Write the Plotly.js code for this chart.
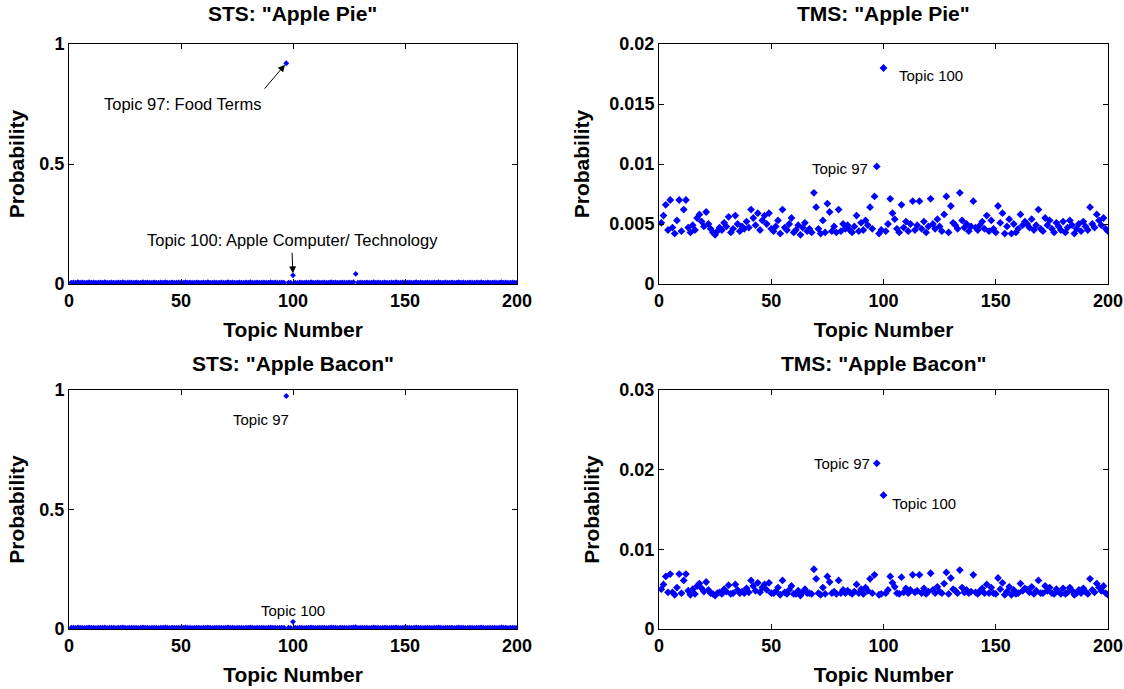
<!DOCTYPE html>
<html>
<head>
<meta charset="utf-8">
<script src="https://cdn.plot.ly/plotly-3.0.1.min.js"></script>
<style>html,body{margin:0;padding:0;background:#fff;}#chart{width:1124px;height:689px;}</style>
</head>
<body>
<div id="chart"></div>
<script>
// Topic numbers 1..200
const topics = Array.from({length: 200}, (_, i) => i + 1);

const stsApplePie = [
0.006,0.007,0.005,0.008,0.006,0.007,0.005,0.006,0.008,0.006,
0.007,0.005,0.006,0.007,0.006,0.008,0.005,0.006,0.007,0.006,
0.005,0.007,0.006,0.008,0.006,0.005,0.007,0.006,0.006,0.007,
0.005,0.006,0.008,0.006,0.007,0.005,0.006,0.007,0.006,0.005,
0.007,0.006,0.008,0.006,0.005,0.007,0.006,0.006,0.007,0.005,
0.006,0.008,0.006,0.007,0.005,0.006,0.007,0.006,0.005,0.007,
0.006,0.008,0.006,0.005,0.007,0.006,0.006,0.007,0.005,0.006,
0.008,0.006,0.007,0.005,0.006,0.007,0.006,0.005,0.007,0.006,
0.008,0.006,0.005,0.007,0.006,0.006,0.007,0.005,0.006,0.008,
0.006,0.007,0.005,0.006,0.007,0.006,0.920,0.006,0.005,0.036,
0.006,0.004,0.007,0.006,0.005,0.007,0.006,0.008,0.006,0.005,
0.007,0.006,0.006,0.007,0.005,0.006,0.008,0.006,0.007,0.005,
0.006,0.007,0.006,0.005,0.007,0.006,0.008,0.042,0.005,0.007,
0.006,0.006,0.007,0.005,0.006,0.008,0.006,0.007,0.005,0.006,
0.007,0.006,0.005,0.007,0.006,0.008,0.006,0.005,0.007,0.006,
0.006,0.007,0.005,0.006,0.008,0.006,0.007,0.005,0.006,0.007,
0.006,0.005,0.007,0.006,0.008,0.006,0.005,0.007,0.006,0.006,
0.007,0.005,0.006,0.008,0.006,0.007,0.005,0.006,0.007,0.006,
0.005,0.007,0.006,0.008,0.006,0.005,0.007,0.006,0.006,0.007,
0.005,0.006,0.008,0.006,0.007,0.005,0.006,0.007,0.006,0.005
];

const stsAppleBacon = [
0.005,0.006,0.004,0.007,0.005,0.006,0.004,0.005,0.007,0.005,
0.006,0.004,0.005,0.006,0.005,0.007,0.004,0.005,0.006,0.005,
0.004,0.006,0.005,0.007,0.005,0.004,0.006,0.005,0.005,0.006,
0.004,0.005,0.007,0.005,0.006,0.004,0.005,0.006,0.005,0.004,
0.006,0.005,0.007,0.005,0.004,0.006,0.005,0.005,0.006,0.004,
0.005,0.007,0.005,0.006,0.004,0.005,0.006,0.005,0.004,0.006,
0.005,0.007,0.005,0.004,0.006,0.005,0.005,0.006,0.004,0.005,
0.007,0.005,0.006,0.004,0.005,0.006,0.005,0.004,0.006,0.005,
0.007,0.005,0.004,0.006,0.005,0.005,0.006,0.004,0.005,0.007,
0.005,0.006,0.004,0.005,0.006,0.005,0.975,0.005,0.004,0.030,
0.005,0.004,0.006,0.005,0.004,0.006,0.005,0.007,0.005,0.004,
0.006,0.005,0.005,0.006,0.004,0.005,0.007,0.005,0.006,0.004,
0.005,0.006,0.005,0.004,0.006,0.005,0.007,0.008,0.004,0.006,
0.005,0.005,0.006,0.004,0.005,0.007,0.005,0.006,0.004,0.005,
0.006,0.005,0.004,0.006,0.005,0.007,0.005,0.004,0.006,0.005,
0.005,0.006,0.004,0.005,0.007,0.005,0.006,0.004,0.005,0.006,
0.005,0.004,0.006,0.005,0.007,0.005,0.004,0.006,0.005,0.005,
0.006,0.004,0.005,0.007,0.005,0.006,0.004,0.005,0.006,0.005,
0.004,0.006,0.005,0.007,0.005,0.004,0.006,0.005,0.005,0.006,
0.004,0.005,0.007,0.005,0.006,0.004,0.005,0.006,0.005,0.004
];

const tmsApplePie = [
0.0051,0.0057,0.0066,0.0045,0.0070,0.0047,0.0042,0.0053,0.0070,0.0044,
0.0062,0.0070,0.0047,0.0043,0.0049,0.0045,0.0055,0.0058,0.0052,0.0048,
0.0060,0.0050,0.0046,0.0043,0.0041,0.0044,0.0047,0.0045,0.0051,0.0048,
0.0056,0.0043,0.0046,0.0057,0.0050,0.0044,0.0048,0.0046,0.0052,0.0047,
0.0062,0.0055,0.0049,0.0059,0.0045,0.0053,0.0057,0.0050,0.0059,0.0046,
0.0044,0.0048,0.0053,0.0042,0.0062,0.0047,0.0045,0.0050,0.0055,0.0043,
0.0045,0.0049,0.0041,0.0047,0.0051,0.0044,0.0046,0.0043,0.0076,0.0064,
0.0046,0.0042,0.0053,0.0043,0.0067,0.0060,0.0044,0.0048,0.0043,0.0062,
0.0044,0.0050,0.0046,0.0049,0.0045,0.0043,0.0048,0.0057,0.0044,0.0051,
0.0045,0.0053,0.0049,0.0064,0.0046,0.0073,0.0098,0.0042,0.0045,0.0180,
0.0044,0.0050,0.0071,0.0059,0.0054,0.0046,0.0043,0.0066,0.0047,0.0052,
0.0044,0.0050,0.0069,0.0045,0.0049,0.0069,0.0046,0.0052,0.0043,0.0048,
0.0071,0.0050,0.0046,0.0054,0.0048,0.0044,0.0058,0.0073,0.0043,0.0065,
0.0051,0.0049,0.0046,0.0076,0.0053,0.0047,0.0050,0.0044,0.0048,0.0069,
0.0047,0.0045,0.0049,0.0052,0.0046,0.0057,0.0044,0.0053,0.0046,0.0043,
0.0065,0.0051,0.0059,0.0042,0.0048,0.0054,0.0042,0.0050,0.0043,0.0046,
0.0058,0.0049,0.0052,0.0050,0.0047,0.0054,0.0045,0.0049,0.0062,0.0046,
0.0044,0.0055,0.0049,0.0053,0.0046,0.0043,0.0051,0.0048,0.0045,0.0052,
0.0043,0.0047,0.0053,0.0049,0.0042,0.0046,0.0050,0.0044,0.0052,0.0048,
0.0045,0.0064,0.0050,0.0047,0.0058,0.0053,0.0049,0.0055,0.0046,0.0044
];

const tmsAppleBacon = [
0.0050,0.0056,0.0066,0.0046,0.0069,0.0046,0.0043,0.0052,0.0069,0.0045,
0.0061,0.0069,0.0048,0.0043,0.0050,0.0044,0.0054,0.0057,0.0051,0.0047,
0.0059,0.0049,0.0045,0.0044,0.0042,0.0045,0.0046,0.0044,0.0050,0.0047,
0.0055,0.0044,0.0045,0.0056,0.0049,0.0045,0.0047,0.0045,0.0051,0.0046,
0.0061,0.0054,0.0048,0.0058,0.0046,0.0052,0.0056,0.0049,0.0058,0.0045,
0.0045,0.0047,0.0052,0.0043,0.0061,0.0046,0.0044,0.0049,0.0054,0.0044,
0.0044,0.0048,0.0042,0.0046,0.0050,0.0045,0.0045,0.0044,0.0075,0.0063,
0.0045,0.0043,0.0052,0.0044,0.0066,0.0059,0.0045,0.0047,0.0044,0.0061,
0.0045,0.0049,0.0045,0.0048,0.0046,0.0044,0.0047,0.0056,0.0045,0.0050,
0.0044,0.0052,0.0048,0.0063,0.0045,0.0068,0.0208,0.0043,0.0044,0.0168,
0.0045,0.0049,0.0066,0.0058,0.0053,0.0045,0.0044,0.0065,0.0046,0.0051,
0.0045,0.0049,0.0068,0.0046,0.0048,0.0068,0.0045,0.0051,0.0044,0.0047,
0.0070,0.0049,0.0045,0.0053,0.0047,0.0045,0.0057,0.0071,0.0044,0.0064,
0.0050,0.0048,0.0045,0.0074,0.0052,0.0046,0.0049,0.0045,0.0047,0.0068,
0.0046,0.0044,0.0048,0.0051,0.0045,0.0056,0.0045,0.0052,0.0045,0.0044,
0.0064,0.0050,0.0058,0.0043,0.0047,0.0053,0.0043,0.0049,0.0044,0.0045,
0.0057,0.0048,0.0051,0.0049,0.0046,0.0053,0.0044,0.0048,0.0061,0.0045,
0.0045,0.0054,0.0048,0.0052,0.0045,0.0044,0.0050,0.0047,0.0044,0.0051,
0.0044,0.0046,0.0052,0.0048,0.0043,0.0045,0.0049,0.0045,0.0051,0.0047,
0.0044,0.0063,0.0049,0.0046,0.0057,0.0052,0.0048,0.0054,0.0045,0.0043
];

const xTickVals = [0, 50, 100, 150, 200];
const panelTitles = ['STS: "Apple Pie"', 'TMS: "Apple Pie"', 'STS: "Apple Bacon"', 'TMS: "Apple Bacon"'];

const blue = '#0000ff';
const FONT = '"Liberation Sans", Arial, Helvetica, sans-serif';

function trace(y, xa, ya, size) {
  return {
    x: topics, y: y, xaxis: xa, yaxis: ya,
    type: 'scatter', mode: 'markers',
    marker: {symbol: 'diamond', size: size, color: blue, line: {width: 0}},
    hoverinfo: 'x+y', showlegend: false
  };
}

const data = [
  trace(stsApplePie, 'x', 'y', 4.5),
  trace(tmsApplePie, 'x2', 'y2', 6),
  trace(stsAppleBacon, 'x3', 'y3', 4.5),
  trace(tmsAppleBacon, 'x4', 'y4', 6)
];

const W = 1124, H = 689;
const colL = [69 / W, 517 / W];
const colR = [659 / W, 1108 / W];
const rowT = [1 - 284 / H, 1 - 44 / H];
const rowB = [1 - 629 / H, 1 - 390 / H];

const tickFont = {family: FONT, size: 18, color: '#000', weight: 'bold'};
const axTitleFont = {family: FONT, size: 21, color: '#000', weight: 'bold'};

function xaxis(domain, anchor) {
  return {
    domain: domain, anchor: anchor, range: [0, 200], tickvals: xTickVals,
    ticks: 'inside', ticklen: 5, tickcolor: '#000', showline: true, mirror: 'ticks',
    linecolor: '#000', linewidth: 1, showgrid: false, zeroline: false,
    tickfont: tickFont, fixedrange: true,
    title: {text: 'Topic Number', font: axTitleFont, standoff: 12}
  };
}
function yaxis(domain, anchor, range, dtick, standoff) {
  return {
    domain: domain, anchor: anchor, range: range, dtick: dtick, tick0: 0,
    ticks: 'inside', ticklen: 5, tickcolor: '#000', showline: true, mirror: 'ticks',
    linecolor: '#000', linewidth: 1, showgrid: false, zeroline: false,
    tickfont: tickFont, fixedrange: true,
    title: {text: 'Probability', font: axTitleFont, standoff: standoff}
  };
}

const annFontS = {family: FONT, size: 15, color: '#000'};
const annFontL = {family: FONT, size: 16.5, color: '#000'};
const titleFont = {family: FONT, size: 21, color: '#000', weight: 'bold'};

function panelTitle(text, xc, yMid) {
  return {text: text, xref: 'paper', yref: 'paper', x: xc, y: yMid, xanchor: 'center', yanchor: 'middle',
    showarrow: false, font: titleFont};
}

const annotations = [
  panelTitle(panelTitles[0], (colL[0] + colL[1]) / 2, 1 - 14 / H),
  panelTitle(panelTitles[1], (colR[0] + colR[1]) / 2, 1 - 14 / H),
  panelTitle(panelTitles[2], (colL[0] + colL[1]) / 2, 1 - 363 / H),
  panelTitle(panelTitles[3], (colR[0] + colR[1]) / 2, 1 - 363 / H),
  // STS Apple Pie: arrow (separate) and text
  {x: 97, y: stsApplePie[96], xref: 'x', yref: 'y', text: '', showarrow: true,
   arrowhead: 2, arrowsize: 1.4, arrowwidth: 1, arrowcolor: '#000', ax: -23, ay: 27, standoff: 2},
  {x: 97, y: stsApplePie[96], xref: 'x', yref: 'y', text: 'Topic 97: Food Terms', showarrow: false,
   xanchor: 'center', yanchor: 'middle', xshift: -104, yshift: -41, font: annFontL},
  {x: 100, y: stsApplePie[99], xref: 'x', yref: 'y', text: '', showarrow: true,
   arrowhead: 2, arrowsize: 1.4, arrowwidth: 1, arrowcolor: '#000', ax: -1, ay: -24, standoff: 2},
  {x: 100, y: stsApplePie[99], xref: 'x', yref: 'y', text: 'Topic 100: Apple Computer/ Technology', showarrow: false,
   xanchor: 'center', yanchor: 'middle', xshift: -1, yshift: 35, font: annFontL},
  // TMS Apple Pie
  {x: 100, y: tmsApplePie[99], xref: 'x2', yref: 'y2', text: 'Topic 100', showarrow: false,
   xanchor: 'left', xshift: 13, yshift: -7, font: annFontS},
  {x: 97, y: tmsApplePie[96], xref: 'x2', yref: 'y2', text: 'Topic 97', showarrow: false,
   xanchor: 'right', xshift: -7, yshift: -2, font: annFontS},
  // STS Apple Bacon
  {x: 97, y: stsAppleBacon[96], xref: 'x3', yref: 'y3', text: 'Topic 97', showarrow: false,
   xanchor: 'center', xshift: -25, yshift: -24, font: annFontS},
  {x: 100, y: stsAppleBacon[99], xref: 'x3', yref: 'y3', text: 'Topic 100', showarrow: false,
   xanchor: 'center', xshift: 0, yshift: 11, font: annFontS},
  // TMS Apple Bacon
  {x: 97, y: tmsAppleBacon[96], xref: 'x4', yref: 'y4', text: 'Topic 97', showarrow: false,
   xanchor: 'right', xshift: -5, yshift: 0, font: annFontS},
  {x: 100, y: tmsAppleBacon[99], xref: 'x4', yref: 'y4', text: 'Topic 100', showarrow: false,
   xanchor: 'left', xshift: 6, yshift: -8, font: annFontS}
];

const layout = {
  width: W, height: H,
  margin: {l: 0, r: 0, t: 0, b: 0},
  paper_bgcolor: '#fff', plot_bgcolor: '#fff',
  showlegend: false,
  font: {family: FONT, color: '#000'},
  xaxis: xaxis(colL, 'y'),
  yaxis: yaxis(rowT, 'x', [0, 1], 0.5, 9),
  xaxis2: xaxis(colR, 'y2'),
  yaxis2: yaxis(rowT, 'x2', [0, 0.02], 0.005, 14),
  xaxis3: xaxis(colL, 'y3'),
  yaxis3: yaxis(rowB, 'x3', [0, 1], 0.5, 9),
  xaxis4: xaxis(colR, 'y4'),
  yaxis4: yaxis(rowB, 'x4', [0, 0.03], 0.01, 14),
  annotations: annotations
};

Plotly.newPlot('chart', data, layout, {displayModeBar: false});
</script>
</body>
</html>
